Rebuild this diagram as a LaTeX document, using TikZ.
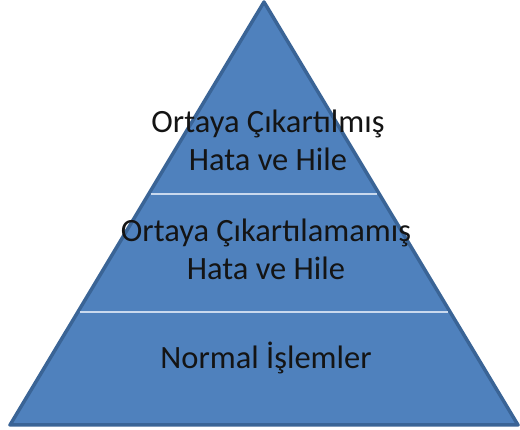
\documentclass[tikz,border=0pt]{standalone}
\usepackage{fontspec}
\setmainfont{Carlito}
\usetikzlibrary{calc}
\definecolor{pyrfill}{HTML}{4F81BD}
\definecolor{pyredge}{HTML}{3A6496}
\definecolor{pyrgap}{HTML}{C9D9EE}
\definecolor{txt}{HTML}{141414}
\tikzset{
  layertext/.style={text=txt, font=\fontsize{32.5}{38}\selectfont, align=center, inner sep=0pt},
}
\begin{document}
\begin{tikzpicture}[x=1pt,y=1pt]
\useasboundingbox (0,0) rectangle (520,430);
\coordinate (apex) at (264,428);
\coordinate (bl) at (10,5);
\coordinate (br) at (518,5);
\fill[pyrfill] (apex) -- (bl) -- (br) -- cycle;
\draw[pyredge, line width=3.5pt, line join=round] (apex) -- (bl) -- (br) -- cycle;
% dividers
\coordinate (d1l) at ($(bl)!{(236-5)/423}!(apex)$);
\coordinate (d1r) at ($(br)!{(236-5)/423}!(apex)$);
\coordinate (d2l) at ($(bl)!{(118-5)/423}!(apex)$);
\coordinate (d2r) at ($(br)!{(118-5)/423}!(apex)$);
\draw[pyrgap, line width=2pt] ($(d1l)+(1.8,0)$) -- ($(d1r)+(-1.8,0)$);
\draw[pyrgap, line width=2pt] ($(d2l)+(1.8,0)$) -- ($(d2r)+(-1.8,0)$);
\node[layertext] (t1) at (268,290) {Ortaya Çıkartılmış\\Hata ve Hile};
\node[layertext] (t2) at (266,181) {Ortaya Çıkartılamamış\\Hata ve Hile};
\node[layertext] (t3) at (266,72) {Normal İşlemler};
\end{tikzpicture}
\end{document}
